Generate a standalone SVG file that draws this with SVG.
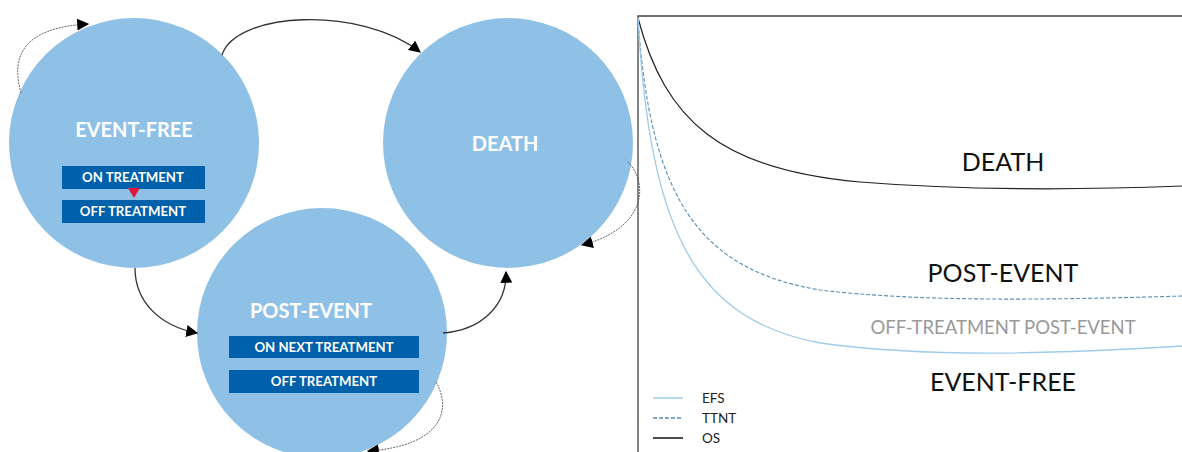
<svg xmlns="http://www.w3.org/2000/svg" width="1182" height="452" viewBox="0 0 1182 452">
<style>
.circ{fill:#8fc1e6}
.ttl{font-family:Lato,"Open Sans",sans-serif;font-weight:bold;fill:#fff;font-size:20px;text-anchor:middle}
.box{fill:#0060a9}
.bt{font-family:Lato,"Open Sans",sans-serif;font-weight:bold;fill:#fff;font-size:13.2px;text-anchor:middle}
.solid{fill:none;stroke:#333;stroke-width:1.3}
.dot{fill:none;stroke:#666;stroke-width:1;stroke-dasharray:2 1}
.big{font-family:Lato,"Open Sans",sans-serif;font-size:25px;fill:#111;text-anchor:middle}
.leg{font-family:Lato,"Open Sans",sans-serif;font-size:13.5px;fill:#222}
</style>
<defs>
<marker id="ah" viewBox="0 0 10 10" refX="9" refY="5" markerWidth="12" markerHeight="12" markerUnits="userSpaceOnUse" orient="auto">
<path d="M0 0 L10 5 L0 10 Z" fill="#000"/>
</marker>
</defs>
<rect width="1182" height="452" fill="#fff"/>
<g id="event-free">
<circle class="circ" cx="134" cy="143" r="125"/>
<text class="ttl" x="134" y="137">EVENT-FREE</text>
<rect class="box" x="62" y="166" width="143" height="23"/>
<text class="bt" x="133" y="182">ON TREATMENT</text>
<rect class="box" x="62" y="200" width="143" height="23"/>
<text class="bt" x="133" y="216">OFF TREATMENT</text>
<path d="M128 188 L140 188 L134 198 Z" fill="#e0173c"/>
</g>
<g id="death">
<circle class="circ" cx="508" cy="143" r="125"/>
<text class="ttl" x="505" y="151">DEATH</text>
</g>
<g id="post-event">
<circle class="circ" cx="322" cy="333" r="125"/>
<text class="ttl" x="311" y="318">POST-EVENT</text>
<rect class="box" x="229" y="336" width="190" height="22"/>
<text class="bt" x="324" y="352">ON NEXT TREATMENT</text>
<rect class="box" x="229" y="370" width="190" height="23"/>
<text class="bt" x="324" y="386">OFF TREATMENT</text>
</g>
<g id="connectors">
<path class="dot" d="M21 93 C12 60 18 28 88 24" marker-end="url(#ah)"/>
<path class="solid" d="M222 55 C235 12 360 5 420 52" marker-end="url(#ah)"/>
<path class="dot" d="M628 162 C648 182 648 228 582 245" marker-end="url(#ah)"/>
<path class="solid" d="M135 268 C135 302 160 326 197 333" marker-end="url(#ah)"/>
<path class="solid" d="M443 333 C482 330 507 305 506 272" marker-end="url(#ah)"/>
<path class="dot" d="M436 382 C452 410 442 446 368 451" marker-end="url(#ah)"/>
</g>
<g id="chart">
<path d="M638 452 L638 16 L1182 16" fill="none" stroke="#444" stroke-width="1.3"/>
<path d="M638 18 C665 120 720 170 860 182 C960 190 1080 190 1182 186" fill="none" stroke="#222" stroke-width="1.2"/>
<path d="M638 18 C650 200 700 270 820 290 C920 302 1050 300 1182 296" fill="none" stroke="#5a8db5" stroke-width="1.1" stroke-dasharray="4 2"/>
<path d="M638 18 C650 240 700 320 820 343 C930 358 1050 354 1182 346" fill="none" stroke="#9fcbec" stroke-width="1.3"/>
<text class="big" x="1003" y="171">DEATH</text>
<text class="big" x="1003" y="282">POST-EVENT</text>
<text class="big" x="1003" y="334" style="font-size:18.5px;fill:#999">OFF-TREATMENT POST-EVENT</text>
<text class="big" x="1003" y="391">EVENT-FREE</text>
<line x1="653" y1="398" x2="683" y2="398" stroke="#9fcbec" stroke-width="1.5"/>
<line x1="653" y1="418" x2="683" y2="418" stroke="#5a8db5" stroke-width="1.5" stroke-dasharray="4 2"/>
<line x1="653" y1="438" x2="683" y2="438" stroke="#111" stroke-width="1.5"/>
<text class="leg" x="702" y="403">EFS</text>
<text class="leg" x="702" y="423">TTNT</text>
<text class="leg" x="702" y="443">OS</text>
</g>
</svg>
